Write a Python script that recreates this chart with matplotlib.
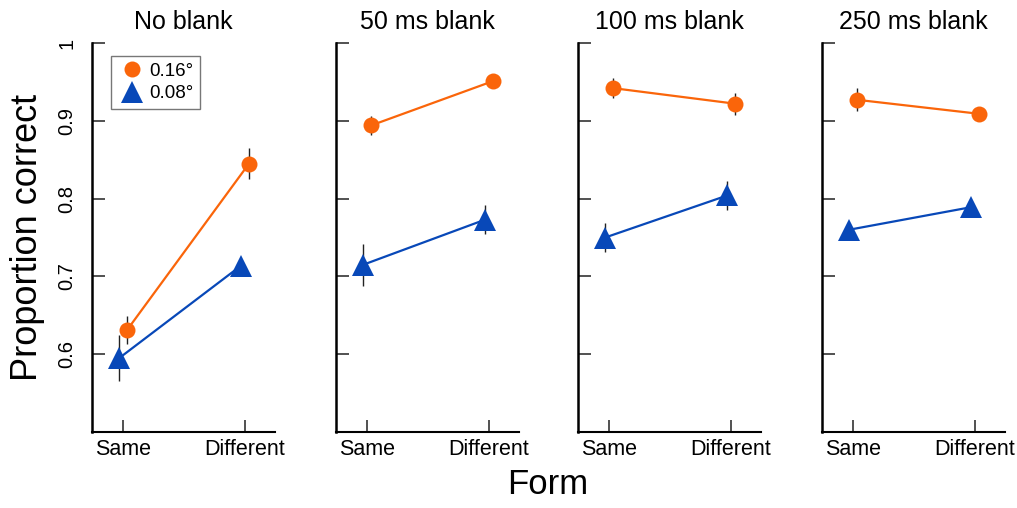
import matplotlib.pyplot as plt
import numpy as np

plt.rcParams['font.family'] = ['Liberation Sans', 'DejaVu Sans']

panels = ["No blank", "50 ms blank", "100 ms blank", "250 ms blank"]
forms = ["Same", "Different"]

# proportion correct, [Same, Different] per panel
large_mean = [[0.631, 0.845], [0.894, 0.951], [0.942, 0.922], [0.927, 0.909]]
large_err = [[0.018, 0.020], [0.012, 0.005], [0.013, 0.014], [0.015, 0.004]]
small_mean = [[0.595, 0.714], [0.715, 0.773], [0.750, 0.804], [0.760, 0.789]]
small_err = [[0.030, 0.006], [0.027, 0.019], [0.019, 0.019], [0.006, 0.004]]

ORANGE = '#FA650A'
BLUE = '#0848B8'
OFFSET = 0.032

fig = plt.figure(figsize=(10.17, 5.08), dpi=100)
lefts = [92, 336, 578, 822]

x = np.arange(len(forms))
for i, name in enumerate(panels):
    ax = fig.add_axes([lefts[i] / 1017, 76 / 508, 183 / 1017, 389 / 508])

    ax.errorbar(x + OFFSET, large_mean[i], yerr=large_err[i], fmt='none',
                ecolor='#222222', elinewidth=1.0, capsize=0, zorder=1)
    ax.errorbar(x - OFFSET, small_mean[i], yerr=small_err[i], fmt='none',
                ecolor='#222222', elinewidth=1.0, capsize=0, zorder=1)
    ax.plot(x + OFFSET, large_mean[i], color=ORANGE, lw=1.6, marker='o',
            markersize=11.5, markeredgewidth=0, label='0.16°', zorder=2)
    ax.plot(x - OFFSET, small_mean[i], color=BLUE, lw=1.6, marker='^',
            markersize=16, markeredgewidth=0, label='0.08°', zorder=2)

    ax.set_xlim(-0.255, 1.245)
    ax.set_ylim(0.5, 1.0)
    ax.set_xticks(x)
    ax.set_xticklabels(forms, fontsize=15.5)
    ax.set_yticks([0.6, 0.7, 0.8, 0.9, 1.0])
    for s in ['top', 'right']:
        ax.spines[s].set_visible(False)
    ax.spines['left'].set_linewidth(1.8)
    ax.spines['bottom'].set_linewidth(1.5)
    ax.tick_params(direction='in', length=9, width=1.2, color='#333333', pad=5)
    ax.tick_params(axis='y', pad=11)
    ax.set_title(name, fontsize=18, pad=10)

    if i == 0:
        ax.set_yticklabels(['0.6', '0.7', '0.8', '0.9', '1'], fontsize=14.5,
                           rotation=90, va='center')
        ax.set_ylabel('Proportion correct', fontsize=26)
        ax.yaxis.set_label_coords(-0.255, 0.5)
        leg = ax.legend(loc='upper left', bbox_to_anchor=(0.105, 0.967),
                        borderaxespad=0, fontsize=13.5, fancybox=False,
                        edgecolor='#555555', borderpad=0.35, handletextpad=0.2,
                        labelspacing=0.3, handlelength=1.5, numpoints=1)
        leg.get_frame().set_linewidth(1.0)
        for h in leg.legend_handles:
            h.set_linestyle('none')
    else:
        ax.set_yticklabels([])

fig.text(548 / 1017, 14 / 508, 'Form', fontsize=25, ha='center', va='baseline')

plt.savefig('out.png', dpi=100)
